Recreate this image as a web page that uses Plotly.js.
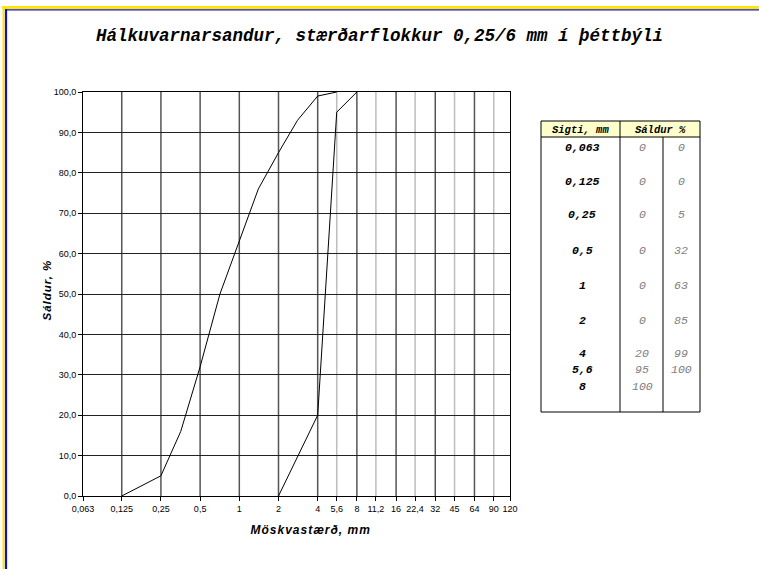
<!DOCTYPE html>
<html>
<head>
<meta charset="utf-8">
<script src="https://cdn.plot.ly/plotly-3.0.1.min.js"></script>
<style>
  html, body { margin: 0; padding: 0; background: #ffffff; }
  #chart { width: 759px; height: 569px; }
  #chart .annotation[data-index="0"] text,
  #chart .annotation[data-index="1"] text { letter-spacing: 1px; }
</style>
</head>
<body>
<div id="chart"></div>
<script>
// ---------- data ----------
const titleText = 'Hálkuvarnarsandur, stærðarflokkur 0,25/6 mm í þéttbýli';
const xTitle = 'Möskvastærð, mm';
const yTitle = 'Sáldur, %';

const sieveTicks = [0.063, 0.125, 0.25, 0.5, 1, 2, 4, 5.6, 8, 11.2, 16, 22.4, 32, 45, 64, 90, 120];
const sieveTickText = ['0,063', '0,125', '0,25', '0,5', '1', '2', '4', '5,6', '8', '11,2', '16', '22,4', '32', '45', '64', '90', '120'];
const darkGridVals = [0.125, 0.25, 0.5, 1, 2, 4, 8, 16, 32, 64];
const lightGridVals = [5.6, 11.2, 22.4, 45, 90];

// fine limit curve
const fineX = [0.125, 0.25, 0.355, 0.5, 0.71, 1, 1.4, 2, 2.8, 4, 5.6];
const fineY = [0, 5, 16, 32, 50, 63, 76, 85, 93, 99, 100];
// coarse limit curve
const coarseX = [2, 4, 5.6, 8];
const coarseY = [0, 20, 95, 100];

// table
const tableHeader1 = 'Sigti, mm';
const tableHeader2 = 'Sáldur %';
const tableSieves = ['0,063', '0,125', '0,25', '0,5', '1', '2', '4', '5,6', '8'];
const tableCol1 = ['0', '0', '0', '0', '0', '0', '20', '95', '100'];
const tableCol2 = ['0', '0', '5', '32', '63', '85', '99', '100', ''];

// ---------- layout helpers (pixel -> paper) ----------
const W = 759, H = 569;
const ML = 83, MR = 249, MT = 92, MB = 73;
const PW = W - ML - MR, PH = H - MT - MB;
const px = p => (p - ML) / PW;
const py = p => (H - MB - p) / PH;

const shapes = [];
// vertical gridlines
darkGridVals.forEach(v => shapes.push({type: 'line', xref: 'x', yref: 'paper', x0: v, x1: v, y0: 0, y1: 1,
  line: {color: '#555555', width: 1.5}, layer: 'below'}));
lightGridVals.forEach(v => shapes.push({type: 'line', xref: 'x', yref: 'paper', x0: v, x1: v, y0: 0, y1: 1,
  line: {color: '#bdbdbd', width: 1.5}, layer: 'below'}));

// page frame (yellow / blue)
shapes.push({type: 'line', xref: 'paper', yref: 'paper', x0: px(2), x1: px(759), y0: py(7.5), y1: py(7.5), line: {color: '#ffe600', width: 3}});
shapes.push({type: 'line', xref: 'paper', yref: 'paper', x0: px(5), x1: px(759), y0: py(9.8), y1: py(9.8), line: {color: '#1010d0', width: 1.2}});
shapes.push({type: 'line', xref: 'paper', yref: 'paper', x0: px(3.5), x1: px(3.5), y0: py(6), y1: py(569), line: {color: '#ffe600', width: 2}});
shapes.push({type: 'line', xref: 'paper', yref: 'paper', x0: px(6), x1: px(6), y0: py(9), y1: py(569), line: {color: '#1010d0', width: 2.2}});

// table geometry (pixels)
const tL = 541, tR = 700, tT = 121, tB = 412, tHead = 137, tC1 = 620, tC2 = 663;
shapes.push({type: 'rect', xref: 'paper', yref: 'paper', x0: px(tL), x1: px(tR), y0: py(tT), y1: py(tHead),
  fillcolor: '#ffffcc', line: {width: 0}});
shapes.push({type: 'rect', xref: 'paper', yref: 'paper', x0: px(tL), x1: px(tR), y0: py(tT), y1: py(tB),
  line: {color: '#000000', width: 1}});
shapes.push({type: 'line', xref: 'paper', yref: 'paper', x0: px(tL), x1: px(tR), y0: py(tHead), y1: py(tHead), line: {color: '#000000', width: 1}});
shapes.push({type: 'line', xref: 'paper', yref: 'paper', x0: px(tC1), x1: px(tC1), y0: py(tT), y1: py(tB), line: {color: '#000000', width: 1}});
shapes.push({type: 'line', xref: 'paper', yref: 'paper', x0: px(tC2), x1: px(tC2), y0: py(tHead), y1: py(tB), line: {color: '#000000', width: 1}});

const sansFont = '"Liberation Sans", Arial, sans-serif';
const monoFont = '"Liberation Mono", "DejaVu Sans Mono", monospace';
const annotations = [];
// axis titles (index 0 and 1)
annotations.push({xref: 'paper', yref: 'paper', x: px(311), y: py(530), text: '<b><i>' + xTitle + '</i></b>',
  showarrow: false, xanchor: 'center', yanchor: 'middle', font: {family: sansFont, size: 12, color: '#000'}});
annotations.push({xref: 'paper', yref: 'paper', x: px(47), y: py(290), text: '<b><i>' + yTitle + '</i></b>', textangle: -90,
  showarrow: false, xanchor: 'center', yanchor: 'middle', font: {family: sansFont, size: 11.5, color: '#000'}});

annotations.push({xref: 'paper', yref: 'paper', x: px((tL + tC1) / 2), y: py(129.5), text: '<b><i>' + tableHeader1 + '</i></b>',
  showarrow: false, xanchor: 'center', yanchor: 'middle', font: {family: monoFont, size: 10.5, color: '#000'}});
annotations.push({xref: 'paper', yref: 'paper', x: px((tC1 + tR) / 2), y: py(129.5), text: '<b><i>' + tableHeader2 + '</i></b>',
  showarrow: false, xanchor: 'center', yanchor: 'middle', font: {family: monoFont, size: 10.5, color: '#000'}});
const rowY = [147, 181, 214, 250, 285, 320, 353, 369, 386];
tableSieves.forEach((s, i) => {
  annotations.push({xref: 'paper', yref: 'paper', x: px(582), y: py(rowY[i]), text: '<b><i>' + s + '</i></b>',
    showarrow: false, xanchor: 'center', yanchor: 'middle', font: {family: monoFont, size: 11.5, color: '#000'}});
  if (tableCol1[i] !== '') annotations.push({xref: 'paper', yref: 'paper', x: px(642), y: py(rowY[i]), text: '<i>' + tableCol1[i] + '</i>',
    showarrow: false, xanchor: 'center', yanchor: 'middle', font: {family: monoFont, size: 11.5, color: '#808080'}});
  if (tableCol2[i] !== '') annotations.push({xref: 'paper', yref: 'paper', x: px(681), y: py(rowY[i]), text: '<i>' + tableCol2[i] + '</i>',
    showarrow: false, xanchor: 'center', yanchor: 'middle', font: {family: monoFont, size: 11.5, color: '#808080'}});
});

const traces = [
  {x: fineX, y: fineY, type: 'scatter', mode: 'lines', line: {color: '#000000', width: 1}, hoverinfo: 'x+y', showlegend: false},
  {x: coarseX, y: coarseY, type: 'scatter', mode: 'lines', line: {color: '#000000', width: 1}, hoverinfo: 'x+y', showlegend: false}
];

const axisFont = {family: sansFont, size: 9, color: '#000'};
const layout = {
  width: W, height: H,
  margin: {l: ML, r: MR, t: MT, b: MB, pad: 0},
  paper_bgcolor: '#ffffff', plot_bgcolor: '#ffffff',
  separators: ', ',
  showlegend: false,
  title: {
    text: '<b><i>' + titleText + '</i></b>',
    x: 0.5, xref: 'container', xanchor: 'center',
    y: 1 - 35 / H, yref: 'container', yanchor: 'middle',
    font: {family: monoFont, size: 17.5, color: '#000'}
  },
  xaxis: {
    type: 'log',
    range: [Math.log10(0.063), Math.log10(120)],
    tickmode: 'array', tickvals: sieveTicks, ticktext: sieveTickText,
    showgrid: false, zeroline: false,
    ticks: 'outside', ticklen: 4, tickwidth: 1, tickcolor: '#000',
    showline: true, linecolor: '#000', linewidth: 1, mirror: true,
    tickfont: axisFont
  },
  yaxis: {
    range: [0, 100], tickmode: 'linear', tick0: 0, dtick: 10, tickformat: '.1f',
    showgrid: true, gridcolor: '#222222', gridwidth: 1, zeroline: false,
    ticks: 'outside', ticklen: 4, tickwidth: 1, tickcolor: '#000',
    showline: true, linecolor: '#000', linewidth: 1, mirror: true,
    tickfont: axisFont
  },
  shapes: shapes,
  annotations: annotations
};

Plotly.newPlot('chart', traces, layout, {displayModeBar: false, staticPlot: true});
</script>
</body>
</html>
